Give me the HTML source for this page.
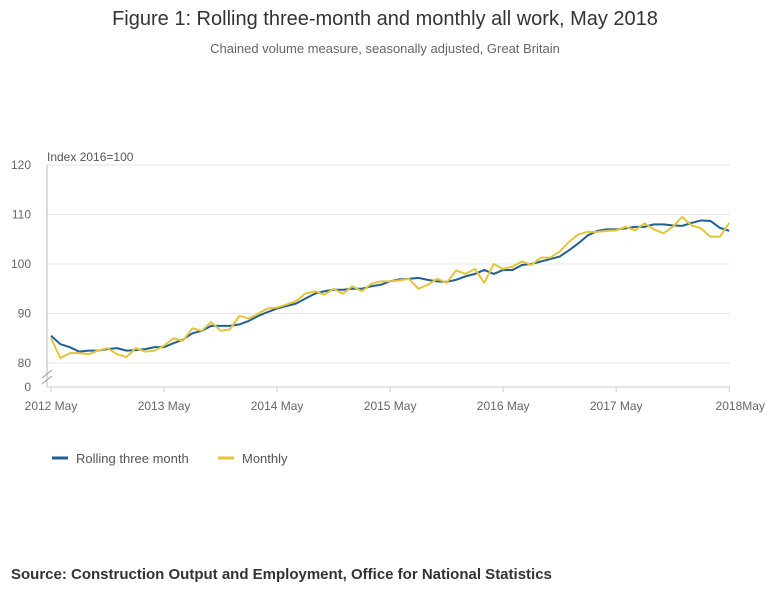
<!DOCTYPE html>
<html><head><meta charset="utf-8"><style>
body{margin:0;width:770px;height:604px;background:#fff;font-family:"Liberation Sans",sans-serif;overflow:hidden;position:relative}
.t{position:absolute;left:0;width:770px;text-align:center}
</style></head><body>
<div class="t" style="top:8px;font-size:20px;color:#333">Figure 1: Rolling three-month and monthly all work, May 2018</div>
<div class="t" style="top:41px;font-size:13px;color:#666">Chained volume measure, seasonally adjusted, Great Britain</div>
<svg id="c" width="770" height="604" style="position:absolute;left:0;top:0"></svg>
<div style="position:absolute;left:11px;top:566px;font-size:15px;font-weight:bold;color:#333">Source: Construction Output and Employment, Office for National Statistics</div>
<script>
const xLabels=["2012 May","2013 May","2014 May","2015 May","2016 May","2017 May","2018May"];
const yTicks=[80,90,100,110,120];
const rolling=[85.5,83.8,83.2,82.3,82.5,82.5,82.8,83,82.5,82.6,82.8,83.2,
83.2,84,84.7,86,86.5,87.5,87.5,87.5,87.8,88.5,89.5,90.3,
91,91.5,92,93,94,94.5,94.8,94.8,95,95,95.5,95.8,
96.5,96.9,97,97.2,96.8,96.5,96.4,96.8,97.5,98,98.8,98,
98.8,98.8,99.8,100,100.5,101,101.5,102.8,104.2,105.8,106.7,107,
107,107.2,107.5,107.5,108,108,107.8,107.7,108.3,108.8,108.7,107.3,106.7];
const monthly=[85,81,82,82,81.8,82.5,83,81.8,81.2,83,82.3,82.5,
83.5,85,84.5,87,86.5,88.3,86.5,86.8,89.5,89,90,
91,91.2,91.8,92.5,94,94.5,93.8,95,94,95.5,94.5,96,
96.5,96.5,96.7,97,95,95.8,97,96.2,98.7,98,99,96.2,
100,99,99.5,100.5,99.8,101.3,101.3,102.5,104.5,106,106.5,106.5,
106.7,106.8,107.5,106.8,108.2,107,106.2,107.5,109.5,107.8,107.2,105.5,105.5,108.3];
const svg=document.getElementById('c'),NS='http://www.w3.org/2000/svg';
const x0=51,px=9.42,X=i=>x0+i*px,Y=v=>264-(v-100)*4.95;
function mk(t,a,p){const e=document.createElementNS(NS,t);for(const k in a)e.setAttribute(k,a[k]);(p||svg).appendChild(e);return e;}
yTicks.forEach(v=>{
 const l=mk('line',{x1:47,x2:730,y1:Y(v),y2:Y(v),stroke:'#e4e4e4'});
 
 
 const t=mk('text',{x:31,y:Y(v)+4,'font-size':12,fill:'#666','text-anchor':'end'});t.textContent=v;
 
 
});
const z=mk('text',{x:31,y:391,'font-size':12,fill:'#666','text-anchor':'end'});z.textContent='0';


mk('line',{x1:47,x2:47,y1:165,y2:387,stroke:'#bbb'});
mk('line',{x1:47,x2:730,y1:387,y2:387,stroke:'#ccc'});
mk('path',{d:'M42 378 L52 370 M42 384 L52 376',stroke:'#999',fill:'none'});
const yt=mk('text',{x:47,y:161,'font-size':12,fill:'#555'});yt.textContent='Index 2016=100';


xLabels.forEach((s,i)=>{
 const x=X(i*12);mk('line',{x1:x,x2:x,y1:387,y2:392,stroke:'#ccc'});
 const t=mk('text',{x:x+(i==6?11:0),y:410,'font-size':12,fill:'#666','text-anchor':'middle'});t.textContent=s;
 
 
});
function line(d,c,n){const p=mk('polyline',{points:d.map((v,i)=>X(i)+','+Y(v)).join(' '),fill:'none',stroke:c,'stroke-width':2,'stroke-linejoin':'round'});
 
 }
line(rolling,'#206095','series-rolling-three-month');
line(monthly,'#e3c53a','series-monthly');
[['Rolling three month','#206095',52],['Monthly','#e3c53a',218]].forEach(a=>{
 const g=mk('g',{});
 
 
 mk('line',{x1:a[2],x2:a[2]+16,y1:458,y2:458,stroke:a[1],'stroke-width':3},g);
 const t=mk('text',{x:a[2]+24,y:463,'font-size':13,fill:'#555'},g);t.textContent=a[0];
});
</script>
</body></html>
